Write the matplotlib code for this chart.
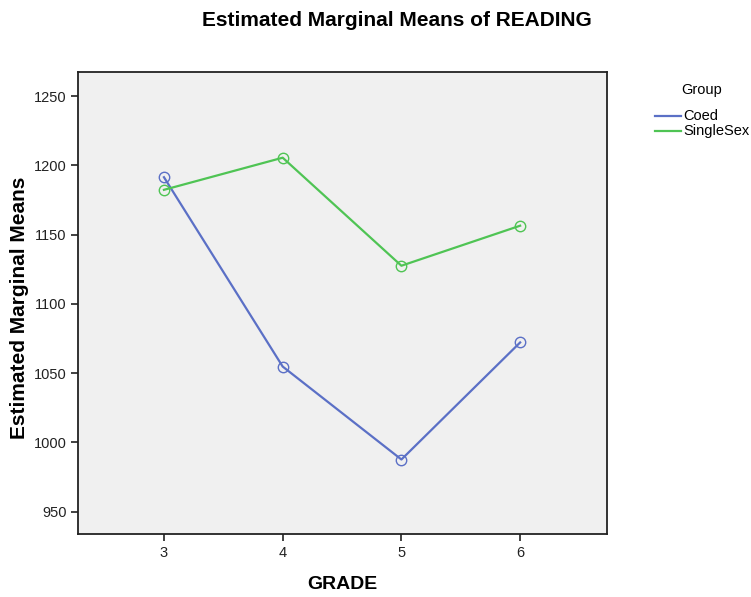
import matplotlib
matplotlib.use("Agg")
import matplotlib.pyplot as plt
from matplotlib.lines import Line2D

plt.rcParams['font.family'] = ['Liberation Sans', 'DejaVu Sans']

grades = [3, 4, 5, 6]
coed = [1191.5, 1054.8, 987.7, 1072.2]
single_sex = [1182.4, 1205.6, 1127.6, 1156.5]
yticks = [950, 1000, 1050, 1100, 1150, 1200, 1250]
series_names = ['Coed', 'SingleSex']

blue = '#5b70c6'
green = '#4fc454'
W, H = 751, 597

fig = plt.figure(figsize=(7.51, 5.97), dpi=100)
ax = fig.add_axes([0.1045, 0.1055, 0.7035, 0.7735])
ax.set_facecolor('#f0f0f0')

ax.plot(grades, coed, color=blue, lw=1.6, marker='o', ms=7.5, mfc='none', mec=blue, mew=1.0, label=series_names[0])
ax.plot(grades, single_sex, color=green, lw=1.6, marker='o', ms=7.5, mfc='none', mec=green, mew=1.0, label=series_names[1])

ax.set_xlim(2.28, 6.73)
ax.set_ylim(933.9, 1267.3)
ax.set_xticks(grades)
ax.set_yticks(yticks)
ax.tick_params(axis='both', labelsize=10.5, length=5, width=1.3, color='#333333', labelcolor='#222222')
for s in ax.spines.values():
    s.set_linewidth(1.3)
    s.set_color('#222222')

ax.set_xlabel('GRADE', fontsize=14, fontweight='bold', labelpad=12)
fig.text(20 / W, 1 - 308 / H, 'Estimated Marginal Means', rotation=90, ha='center', va='center',
         fontsize=15, fontweight='bold')
fig.text(397 / W, 1 - 20 / H, 'Estimated Marginal Means of READING', ha='center', va='center',
         fontsize=15, fontweight='bold')

# legend
fig.text(702 / W, 1 - 90 / H, 'Group', ha='center', va='center', fontsize=10.5)
for i, (name, col) in enumerate(zip(series_names, [blue, green])):
    y = 1 - (116 + 15 * i) / H
    fig.add_artist(Line2D([655 / W, 681 / W], [y, y], color=col, lw=1.6, transform=fig.transFigure))
    fig.text(683 / W, y, name, ha='left', va='center', fontsize=10.5)

fig.savefig('out.png', dpi=100)
